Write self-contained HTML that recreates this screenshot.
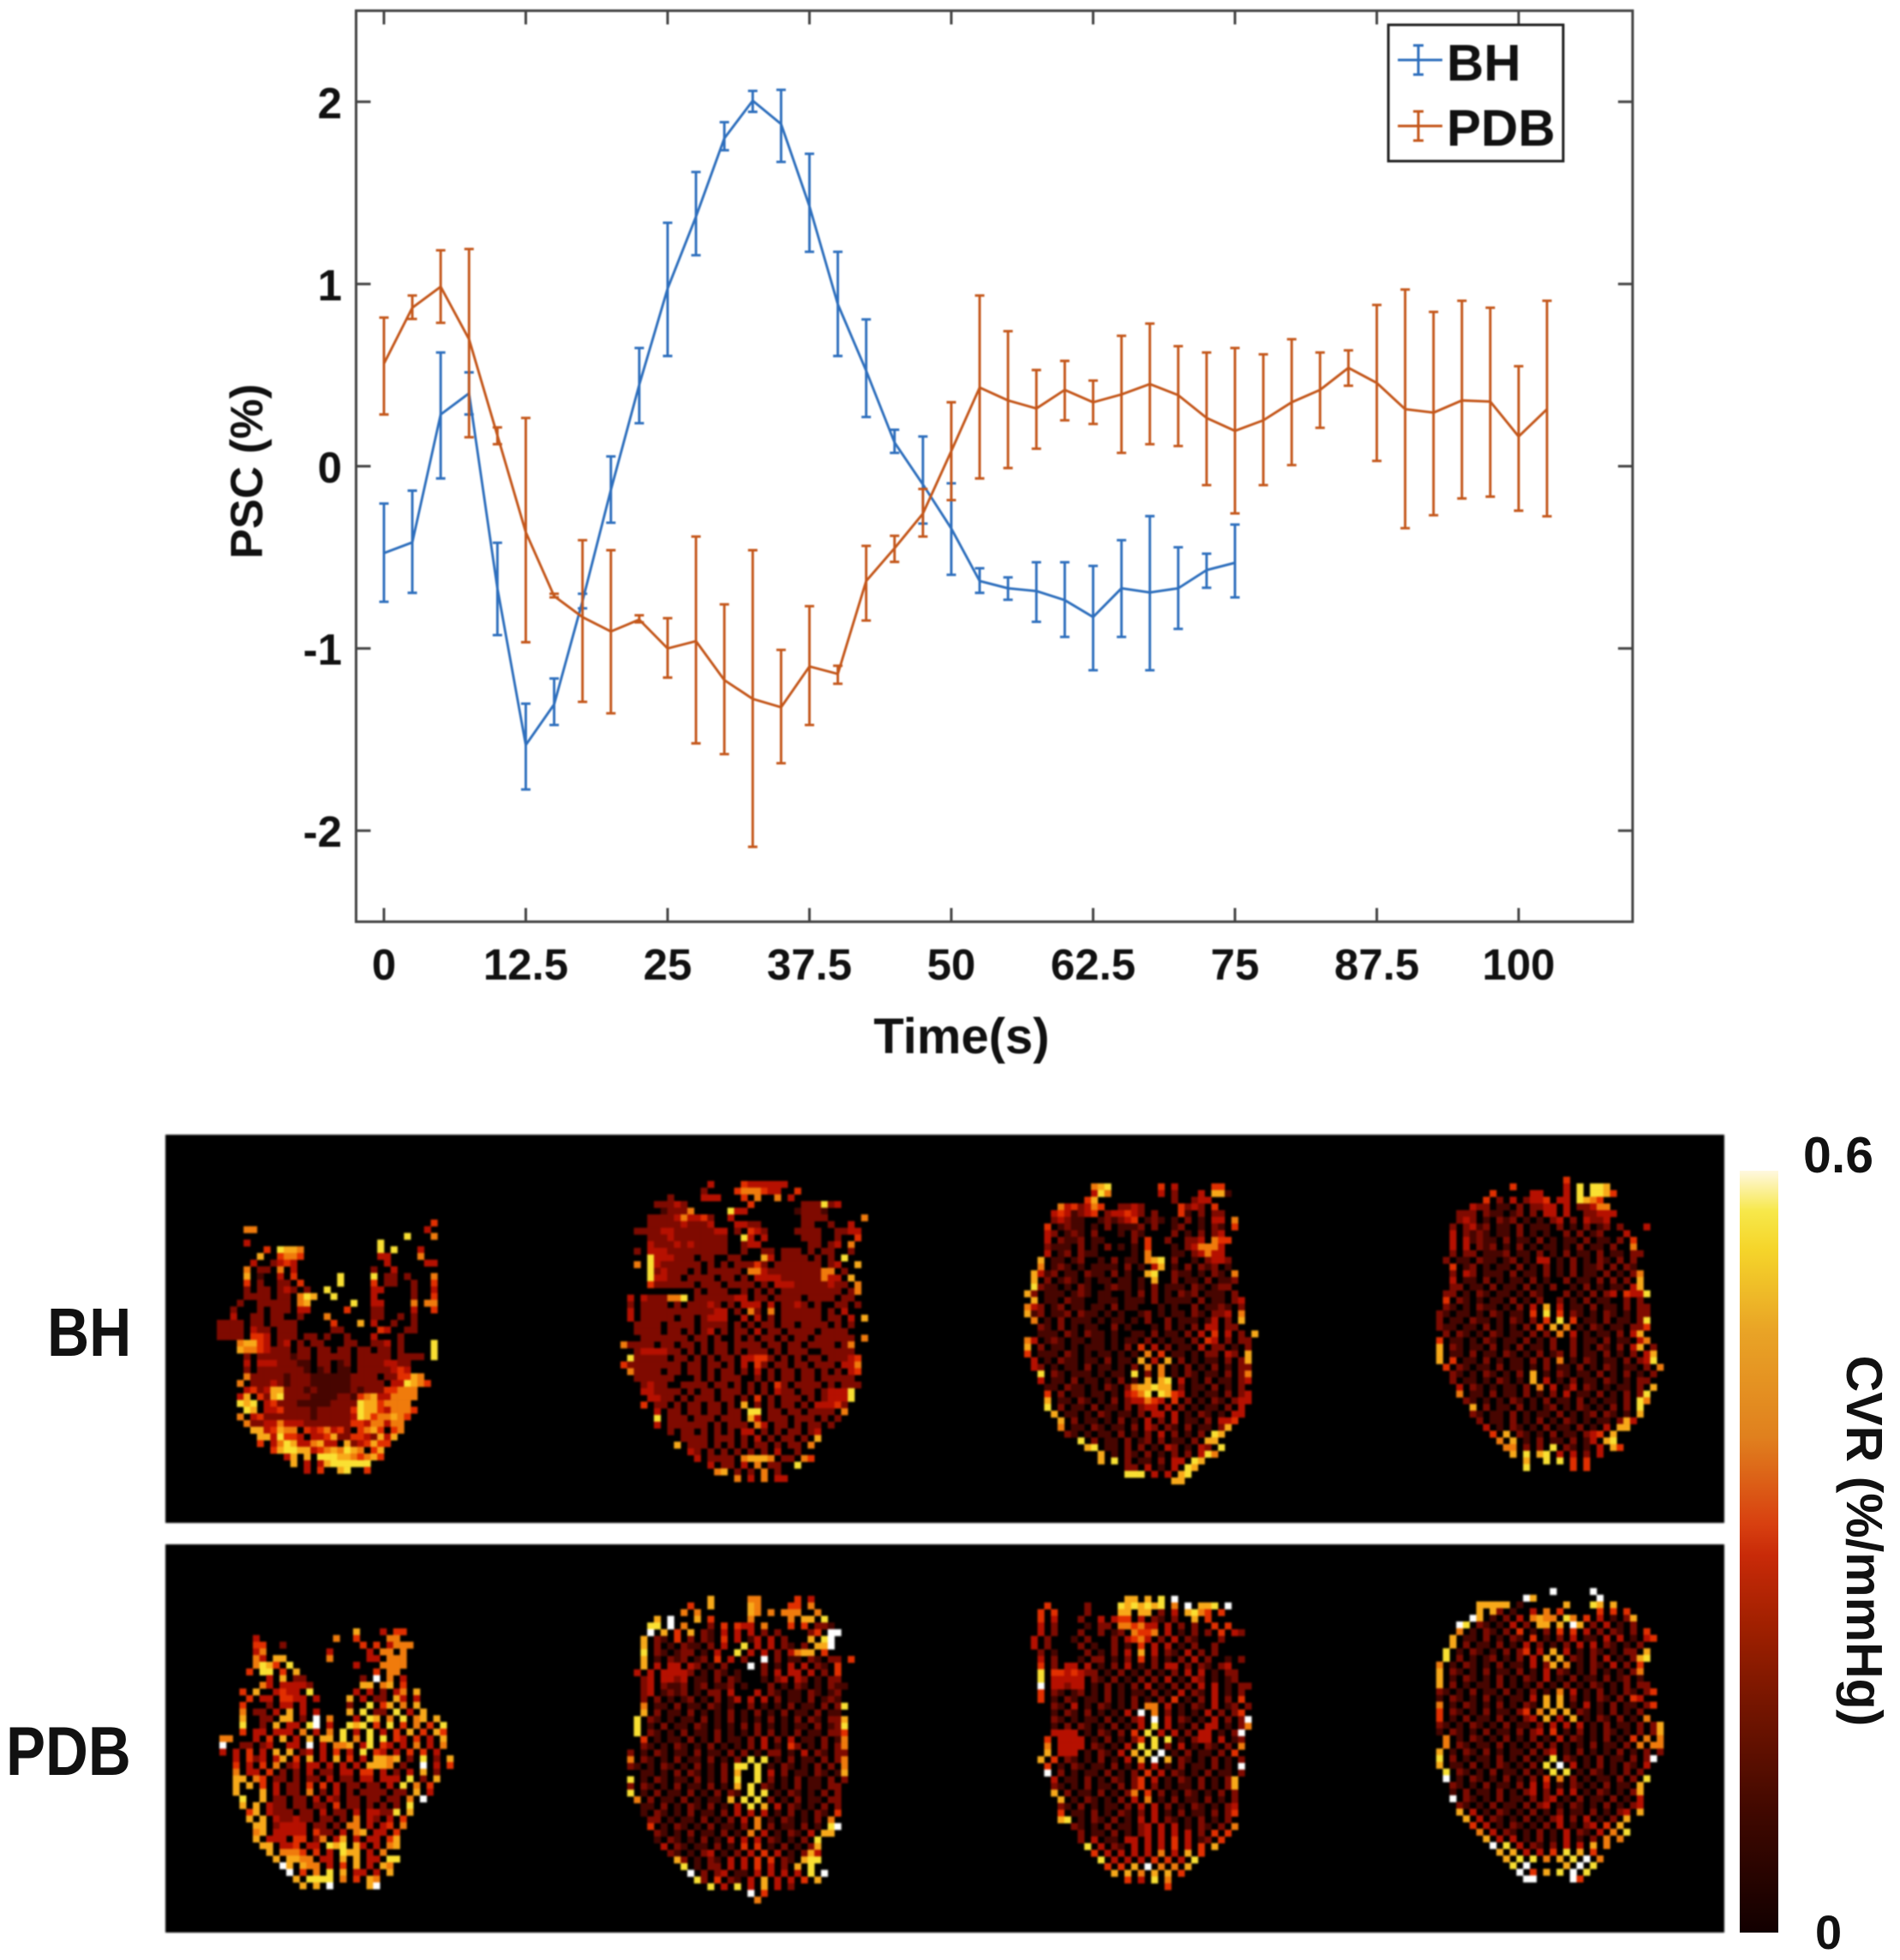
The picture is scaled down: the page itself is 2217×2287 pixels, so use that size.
<!DOCTYPE html>
<html>
<head>
<meta charset="utf-8">
<title>PSC time course and CVR maps</title>
<style>
html,body{margin:0;padding:0;background:#fff;}
svg{display:block;font-family:"Liberation Sans",sans-serif;}
#plot-layer{filter:blur(0.7px);}
#maps-layer{filter:blur(1px);}
text{fill:#111;font-weight:bold;}
</style>
</head>
<body>
<svg id="fig" width="2217" height="2287" viewBox="0 0 2217 2287" xmlns="http://www.w3.org/2000/svg">
<defs>
<linearGradient id="cvr-grad" x1="0" y1="0" x2="0" y2="1">
<stop offset="0" stop-color="#fff8e0"/>
<stop offset="0.053" stop-color="#f7e84a"/>
<stop offset="0.103" stop-color="#f5d52a"/>
<stop offset="0.209" stop-color="#e9a426"/>
<stop offset="0.35" stop-color="#e0801e"/>
<stop offset="0.464" stop-color="#d84010"/>
<stop offset="0.506" stop-color="#c82a08"/>
<stop offset="0.598" stop-color="#a02000"/>
<stop offset="0.704" stop-color="#741500"/>
<stop offset="0.846" stop-color="#3f0800"/>
<stop offset="1" stop-color="#120000"/>
</linearGradient>
</defs>
<rect width="2217" height="2287" fill="#fff"/>
<g id="plot-layer">
<rect x="415.5" y="12.5" width="1489.5" height="1063" fill="none" stroke="#444" stroke-width="3"/>
<g id="ticks"></g>
<g id="series"></g>
<text x="306" y="550" font-size="52.5" text-anchor="middle" transform="rotate(-90 306 550)">PSC (%)</text>
<text x="1122" y="1229" font-size="58" text-anchor="middle">Time(s)</text>
<g>
<rect x="1620" y="29" width="204" height="159" fill="#fff" stroke="#222" stroke-width="3"/>
<g stroke="#2e6fbd" stroke-width="3" fill="none">
<path d="M1631 70H1683M1655 53V87M1649 53H1661M1649 87H1661"/>
</g>
<g stroke="#c4571b" stroke-width="3" fill="none">
<path d="M1631 147H1683M1655 130V164M1649 130H1661M1649 164H1661"/>
</g>
<text x="1688" y="94" font-size="60">BH</text>
<text x="1688" y="170" font-size="60">PDB</text>
</g>
</g>
<g id="maps-layer">
<rect x="193" y="1324" width="1819" height="453" fill="#000"/>
<rect x="193" y="1802" width="1819" height="453" fill="#000"/>
<g id="cells"></g>
</g>
<text x="55" y="1582" font-size="68" transform="translate(0 -264) scale(1 1.167)">BH</text>
<text x="7" y="2073" font-size="69" transform="translate(0 -348) scale(1 1.167)">PDB</text>
<rect x="2030" y="1366" width="45" height="889" fill="url(#cvr-grad)"/>
<text x="2104" y="1368" font-size="59">0.6</text>
<text x="2118" y="2274" font-size="56">0</text>
<text x="1798" y="-2155" font-size="59" text-anchor="middle" transform="rotate(90)">CVR (%/mmHg)</text>
<script>
const xTicks = [0, 12.5, 25, 37.5, 50, 62.5, 75, 87.5, 100];
const xTickLabels = ["0", "12.5", "25", "37.5", "50", "62.5", "75", "87.5", "100"];
const yTicks = [2, 1, 0, -1, -2];
const yTickLabels = ["2", "1", "0", "-1", "-2"];

const bhTime = [0,2.5,5,7.5,10,12.5,15,17.5,20,22.5,25,27.5,30,32.5,35,37.5,40,42.5,45,47.5,50,52.5,55,57.5,60,62.5,65,67.5,70,72.5,75];
const bhMean = [-0.477,-0.418,0.284,0.40,-0.67,-1.53,-1.307,-0.74,-0.13,0.447,0.975,1.37,1.80,2.006,1.878,1.427,0.889,0.524,0.13,-0.10,-0.342,-0.63,-0.67,-0.685,-0.735,-0.828,-0.67,-0.693,-0.67,-0.57,-0.53];
const bhUpper = [-0.205,-0.134,0.624,0.515,-0.42,-1.303,-1.165,-0.70,0.054,0.649,1.336,1.615,1.888,2.06,2.066,1.715,1.177,0.806,0.20,0.163,-0.094,-0.56,-0.61,-0.527,-0.527,-0.547,-0.406,-0.274,-0.445,-0.48,-0.32];
const bhLower = [-0.744,-0.695,-0.067,0.284,-0.927,-1.774,-1.42,-0.78,-0.31,0.236,0.605,1.158,1.734,1.945,1.67,1.177,0.605,0.27,0.073,-0.315,-0.596,-0.695,-0.733,-0.854,-0.937,-1.12,-0.937,-1.12,-0.893,-0.667,-0.72];

const pdbTime = [0,2.5,5,7.5,10,12.5,15,17.5,20,22.5,25,27.5,30,32.5,35,37.5,40,42.5,45,47.5,50,52.5,55,57.5,60,62.5,65,67.5,70,72.5,75,77.5,80,82.5,85,87.5,90,92.5,95,97.5,100,102.5];
const pdbMean = [0.563,0.87,0.985,0.697,0.169,-0.362,-0.713,-0.828,-0.907,-0.842,-1.0,-0.96,-1.174,-1.277,-1.323,-1.099,-1.14,-0.63,-0.45,-0.26,0.083,0.432,0.361,0.317,0.419,0.351,0.394,0.451,0.39,0.265,0.194,0.252,0.351,0.419,0.54,0.457,0.313,0.294,0.361,0.355,0.163,0.313];
const pdbUpper = [0.816,0.937,1.185,1.192,0.213,0.265,-0.70,-0.406,-0.461,-0.818,-0.834,-0.386,-0.758,-0.461,-1.008,-0.768,-1.095,-0.437,-0.382,-0.125,0.351,0.937,0.741,0.528,0.578,0.47,0.716,0.783,0.659,0.624,0.649,0.614,0.697,0.624,0.636,0.885,0.97,0.847,0.908,0.87,0.549,0.908];
const pdbLower = [0.284,0.808,0.787,0.159,0.121,-0.966,-0.72,-1.293,-1.356,-0.857,-1.16,-1.521,-1.58,-2.089,-1.63,-1.42,-1.194,-0.847,-0.525,-0.386,-0.186,-0.067,-0.01,0.096,0.252,0.232,0.073,0.121,0.111,-0.104,-0.259,-0.104,0.006,0.211,0.442,0.029,-0.34,-0.269,-0.177,-0.167,-0.244,-0.275];

/* CVR maps: one string per voxel row; '.' = no value, digit d = d/9 of the colour scale */
const sliceBH1 = [
"................................5",
"....66.........................4",
"............................8...6",
"....4...................8",
".......5.8776...........8.8...4",
"......7..5665...........44....6",
".....4..3454.............4.....44",
"....6.33.6.4...........3..4",
"....7.2..4.5......8....8.33.3...6",
"....5.3..33.5.....8....5.33..3..5",
"....3.33.343.3..8......44....3..4",
"....3333.33.687..8.....4.....3..5",
"...3..33333.67......8..44....6.66",
"..3...3.333.44.....5...33....4..5",
"..4..33.33..3...6......33..3.3",
"3333.33.3333.....5...7.4..3..3",
"3333.433.333.....33.....54..33.",
"3333.554.333.33.3..3...4...3...",
"...67754.34.3.33...33..334.3....8",
"...76654333.33.33.33.33.33.3....8",
"....3.33333233.33333.33333.3333.8",
"....4.44433322.33.23.33334433",
"....3.33333332.23.22.33333454",
"....63333323332222223333.335576",
"...6.33343233322222233333.448765",
"....45347733323222223233355666",
"...47.537833332222332567446666",
"...878.4533322222333387756666",
"....87.44533332333335877546665",
"...6.453333333233333487566765",
"....633446444333333355466466",
".....7745766.5456453.5675.56",
"......7748554.4457335543747",
"......5.4687446744.7345755",
"........57887745676876.57",
"..........47.7.8887765675",
"...........7.4.47888888",
".............4.5..78..5",
];
const sliceBH2 = [
".............4....5444444",
"............3....5666544..5",
".......3....444...5.6..6.4",
".....33343.........5.......333834",
"......23336.....844.......23332",
"....3333464453..4..........3333.....6",
"....3333343334...4433......33..3..4",
"..33334433333344.3.543....3333..3344",
"....333433333333..84.4.....333..3..5",
"....433343433333..344.......33.34.6",
"..3.444333333333..3..33.333.3.33..3",
"....8444333.33..33...74.3333.3.3.8",
"..6.84333333.3.3.33353.3333333.34..7",
"....834333.3.33333.6643333333366.3",
"....84433.3333.33.3.4444333333644.7",
"....5333333.333.3333.3.44433333433.6",
"...........3.333..3.3.3.333333333.36",
".4.4333668.33333344.33.3333.3333.33",
".3.3333.3.33343.3.444.4.3343.3..33.3",
".4.3333333333344.3.63.6.333333.3.4",
".4.33333.33.3444..4.4.3.333333.33.4.7",
"..3333.3333.3333.3.3.33.33.3333.3.3",
"..3333.33.3.34.3.33.4.33.3333.3333",
"...3333333.33.3..3.3.33.3.33.333333.6",
"63333.33.33.3.33.3333.33.33.3333.36",
"..3444433.3.3.33.3.333.3.333..33333",
".833333.33.3.3.33.44553.3.3.33.33345",
"533333333.33.33.3.4.53.33.33.333.446",
".63333.33.33.3.33.3.4.3.33.33.3.3.45",
"..333333...3.3.333..3.3.33.33.33333",
"...3433..3333.33.3.3.3.53.3333.3.333",
"...443333.3.33.333.3.3.433.33.34448",
"....4433.3.333.33.3.5.3.333.3.34448",
"...5.33.3.33.33.3.7.3.3.33.3.44453",
".....4.33.33.33.33.88.33.33.3333.6",
".....8.333.333.333.74.333.333.3.3",
".....4.333333.3.333.64.33.3.33.3",
".......3.33.3.3.3.44.3.3.33.34",
".........3333.333.3.4.3.33.3.7",
"........7.333.3.3.3.33.3.33.6",
"..........43.3.3.3.3.3.4..3",
"...........4.3333.67776.33.65",
".............4.33.4.6.33..8",
"..............67.3.3.6.3..",
".................6.4.6.44",
];
const sliceBH3 = [
"..............................",
"..........678.......5.4.....55",
"..........486.......4.3...4.772",
".........57...........3..344",
".....6453465..3343.....5343.5",
"....4542345.344543.3...52.3.33",
"....34322..232345.232.2.3.2.44.6",
"...5.2322.2.3.2223.3..23..2.32.5",
"...43.232.3...2.32....3.2.3.34",
"...4.3223.22....3.5..3..334.655",
"...3222.3.2.3.2.2.5...2.346664",
"...4.23.322.....2.6...22.34644",
"..7.22.23..2.3.22.678.3..2.3443",
"..6.232.2.2222.3.2.47.2.3.323.2",
".7423.22.322.3.2..78..322.2.32.6",
".7.3.232.2.22.22.2.7..3.22.3.223",
".8322.2.32..2322.2.3.222.32.233.",
"73.222.232.22..2.3.3.2.323.222.3",
".7.22.322..222.222.3.2222.3.22.34",
"643.23.22.22.3.22...2.2..3.2232.3",
"723.223.322.2.2..23.2.22.32.334.6",
".6.2.3.222.2.22.2.3..3.222.24.3.7",
"..32.3.2.22..3.2...2.3.2.3.44.33.",
"..222.32.322.2..22.3.22.3.4.5.4.3.7",
"64.232.22.22.2.22.3.2.22.3.54.3.33",
"7.3.22.2.222.2.3.5.4.3.22.4.33.2.3",
"5.222.32.2.22.2.2.6.5.22.2.33.43.7",
".4.2.322.22.3.22.7.4.7.3.2.22.3.37",
".43.2.22.3.22.2.3.6.6.2.3.2.3.2.33",
"..8.32.222.2.22.8.3.6.2.32.22.3.36",
"..4.22.3.22.2.3.2.7.78.4.2.3.22.34",
"...22.322.2.32.3677877.3.22.3.2.3",
"...5.3.22.22.2.4568.8754.2.22.3.34",
"...7.22.32.2.3.344654.5.3.2.32.344",
"...8.3.22.3.22.3.344.4.3.2.22.3.4",
"....7.22.2.32.22.3.44.4.2.32.2.44",
".....7.3.22.2.3.2.4.3.4.22.3.445",
".....6.22.32.22.3.43.32.3.22.37",
"......32.2.22.3.2.3.4.3.2.3.87",
"........8.3.22.3.23.3.22.3.77",
".........78.22.3.3.2.43.2.43.8",
"...........7.2.32.3.2.3.3.486",
"...........7.8.3.22.3.44.87",
"...............33.4.2.4.87",
"...............888.4.4.78",
"......................77",
];
const sliceBH4 = [
"....................5",
"............5.......4.8.887",
".........5.....44...4.8.8875",
"........5.3.4.3445.44.8765",
"......433.22.3.3344.4.33466",
"....333.322.23.3.44.4..33444",
"....343.2.323.2.2.34.3.4334.",
"...3.3423.22.3.222.3.2.3.23.3...4",
"...4.3232.22.3.2.2..3.3.23...4..",
"...4.42322.3.22.3.2.22.3.22.3.5",
"...4.4.323.2.3.2.22.2.3.22.3..6",
"...3.33.2223.22.3.2.3.22.3.22.33",
"..3.22.322.23.2.44.2.3.2.32.3.3",
"...5.23.2.22.3.2.3.2.3.223.3.32",
"...3.43.222.3.22.3.2.3.22.3.2.36",
"...4.22.3.2.22.3.2..3.22.3.3.3.7",
"...33.22.3.22.3.2.3..2.3.2.22.47",
"..33.2.32.22.2.32...3.2.3.34.5448",
"..5.32.2.22.3.2.3..3.2.3.22..3.3",
"..32.2.322.2.3.4.7.4.22.3.22.3.33",
".32.22.2.32.22.5.8.5.32.2.32.2.33",
".3.22.322.2.32.3.5.8.5.22.3.22.38",
".322.22.3.2.2.3.5.7.6.2.32.22.335",
"..3.32.2.32.22.3.3.6.4.2.22.3.47",
".5.22.2.32.22.3.2.3..3.22.3.22.46",
".7.32.22.3.2.3.22.3..3.2.32.3.47.3",
".7.22.3.22.32.2.3.23.3.22.3.2.3.47",
".7.5.22.3.2.22.3.3.6.2.32.22.3.348",
"..5.32.22.3.22.2.3.22.3.2.32.22.3.6",
"...32.2.32.2.3.7.2.32.22.3.2.3.2.3",
"...3.22.2.32.2.7.4.2.3.22.32.2.33",
"....4.32.2.22.3.6.4.24.32.2.22.3.7",
"....6.22.3.22.3.2.3.4.22.3.2.3.38",
".....32.2.2.32.2.3.22.3.2.22.3.86",
"......7.3.22.3.2.23.2.32.2.3.3.8",
"......32.22.3.2.22.3.2.23.32.2.7",
".......3.22.3.2.3.2.32.2.22.374",
"........4.2.32.2.3.22.3.2.4.77",
".........5.7.32.2.3.22.345.7",
"..........6.7.2.3.22.3.24.78",
"...........66.3.3.8.32.2.4.75",
"............7.8.78.4.4.3.4",
"..............7..8.8.5.5",
"..............8......5.5",
];
const slicePDB1 = [
"....................7...4.55.",
".....4...........6..5....66.",
".....55..3...........5.5.4666",
".....46.........4.....4.66.6",
".....64.77......6.....44.666",
".....6875.8.........4...6666",
"....5.88.5.7...........5.66",
".......4.7.33........3.9.6.4",
"......64.44443.......77.67.5",
"...5.7..4544.8......4.4.3.46.7",
"....5.44.5544.4....7.4.33.74.4",
"...5...3.44.4......3..8.57.6.7",
"...6.33.4.7.4.4....7.8.33.8.4.7",
"...7..33.77.3.9.6...4.87.6.8.67.7",
"...8..3.7.44.89.4..878.5.8.5.6.5.8",
"...5.44.444.6.4.6.8.4.8.4.5.7.5.75",
"66...4.5.7.4.7.77.8.6.8.8.54.5.4.7",
"9..33.34..44.9.4.667.48.54.4.6.4.6",
"4.4.5.4.7.7.34.4.5.4.8.54.4.5.5.4",
"..4.534.47.5.7.4.7.5.4.7767.3.8.3.7",
"..5.4.5.6.34.44.4.4.4.7776.3..9.4.5",
"..6.44.5.3.3.4.33.44.55.4.3.4.7.3",
"..77.65.33.3.33.4.33.44.444.8.3.7",
"..7.7.5.4.33.5.5.4.33.33.4.8.6.5",
"..7...7.4.33.6.3.4.3.3333.33.7.4",
"...8..7.33.33.4.43.33.33.33.6.9",
"...7.7.433.33.33.5.33.3.3.3.8.",
"....57.4333.33.4.33.4.44338.7",
"....7.7.433433.33.3.6.43.4.5",
".....77.34444.33.3.66.4.45.6",
".....67.44444.533.4.67.44.5.",
".....7.444.55.36.47.4.44.57",
"......77.445.44.878.74.4.67",
".......7.6665.5.4.877.4.6.",
"........7.7766.44.7.7.44.88",
".........97.766.4.5.7.4.76",
"..........9.5.6.8.7.44.4.7",
"...........7.8888.6.5.76",
"............7.7.9.....79",
];
const slicePDB2 = [
".............7.....66.....5.4",
"..........5..7.....76....55.6",
".........6.6.......76.6.666..6",
".....7.9...7.5.....6.....6.77.8",
"....88.9.6...3.5.544.6...5.5.332",
"....9.7.5.7.32.4.4.4.3.3....35.99",
"...7.32.5.3.32.5.4.24.4.3...7.89",
"...7.3.2.322.3.4..8.4.4.32.3.779",
"...8.32.233.2.4..8.4.4.3.4677.5",
"...7.2.323.23.5.4.3..9.3.22.32.33.5",
"...7.4.44.43.2.3...9.3.2.4.4.32.5",
"..4.4.44443.2.32.2...3.4.44.4.3.5",
"...34.4434.22.3.32...2.34.43.2.33",
"...34.3223.23.223.2...3.2.32.2.322",
"...34.2323.2.33.4...4.32.22.32.23",
"...3.3.2.23.2.3.24.4.4.3.22.3.232",
"...6.22.3.22.32.2..3.2.2.3.22.3.38",
"...7.3.22.3.2.2.3.2.3.2.3.22.3.22",
"..8.32.2.22.3.2.3.2.2.3.2.3.32.337",
"..8.2.3.22.32.2.2.3.3.2.2.22.3.238",
"..8.32.2.3.22.3.2.2.3.3.2.3.22.335",
"...5.2.22.3.2.3.22.3.4.3.4.22.3.26",
"...32.2.32.2.3.2.2.3.4.2.53.2.3.36",
".3.2.32.22.3.22.3.3.2.33.2.4.32.33",
".6.32.2.3.22.3.2.3.8.8.2.3.22.3.36",
".32.2.32.2.3.2.3.88.8.2.32.2.3.3.6",
"...22.2.3.32.2.3.7..8.4.3.22.32.27",
".8.2.32.22.3.2.3.8..8.3.2.3.22.3.3",
".3.32.2.3.22.3.2.7.8.32.2.3.22.33",
".8.2.3.22.3.2.3.32.8.8.2.32.2.3.3",
"..6.3.22.3.2.22.7.8.8.3.2.3.22.33",
"...22.3.2.32.3.2.4.8.7.4.32.2.3.3",
"...2.32.2.3.22.3.4.4.4.2.3.2.32.5",
"....33.2.22.3.2.3.4.6.2.32.2.3.6",
"....5.2.32.2.3.22.3.6.3.22.3.2.89",
".....32.2.3.22.3.2.6.4.2.32.4.77",
".....2.32.2.3.2.4.4.4.32.2.3.8",
"......4.32.22.3.2.5.5.2.3.2.37",
".......32.2.34.2.3.4.5.4.2.374",
"........73.2.32.4.4.5.5.32.788",
".........8.2.33.4.4.5.4.3.7.8",
"..........9.3.34.22.4.4.4.4.8.9",
"...........83.5.32.4.7.4.4.5.7",
".............8.4.8.4.7.4.3",
"...................9.5",
"....................6",
];
const slicePDB3 = [
"...............77.7.8.9",
"...5.....3....8787878.6.9.778.9",
"..5.5....3....77.77.3.4.7865.5",
"..5.4...3..4.455.4.32.3..7.5",
"..4.3....2.33.665644.4.3.3..5.5",
"..4.3...3..3.23.6556.4.2.3.3.5.43",
".4.3...2.3...3.4564.3.4.32...3.",
".4.3....3.2..3.2.5.4.4.2.3..3",
"..3.2....3.2.3.4.7.4.32.4.3.3",
"..4.3...2.33.2.3.5.3.2.3.4.3..2.3",
"..5.3.44.4.2.3.4.2.3.44.3.32.34",
"..8.5545433.2.3.2.3.2.3.4.4.2.33",
"..8.44444.32.3.2.3.3.4.2.43.2.23",
"..9.44344.2.3.2.3.4.2.3.3.4.4.2.33",
"..5.32.23.2.3.2.22.3.2.4.32.4.2.3",
"..5.2.32.22.3.2.3.2.3.5.2.3.4.3.5",
"....32.4.2.32.2.3.66.4.2.32.4.23.3",
"....2.32.3.2.2.4.9.6.3.2.2.4.3.35",
"....32.2.22.3.2.34.9.4.32.2.4.3.39",
"....2.3.32.2.3.2.4.8.4.2.3.44.2.36",
"....4444.2.32.3.5.8.4.4.3.44.2.39",
"...5.4444.2.3.2.35.8.8.2.344.4.23",
"...6.4444.32.2.4.8.8.3.4.2.32.3.6",
"...7.444.2.32.4.7.8.9.2.3.22.3.5",
"..7.5.32.2.3.2.4.7.9.7.32.2.3.2.3",
"...5.2.32.22.3.2.4.4.2.3.22.3.2.9",
"...9.3.2.22.3.2.3.5.4.32.2.3.22.3",
"....4.22.3.2.32.35.4.2.32.3.2.37",
"....32.2.3.22.3.35.3.2.22.3.2.37",
"....7.3.22.3.2.36.5.3.2.32.2.3.3",
".....7.2.32.2.3.4.6.2.3.22.3.2.3",
".....32.3.2.22.3.4.4.3.2.32.2.34",
".....5.22.3.2.32.3.4.2.3.22.3.35",
".....78.2.32.3.2.4.4.32.2.3.2.3",
".......32.2.3.22.34.4.4.2.32.3.6",
"........3.22.3.2.34.4.4.4.3.5.5",
"........3.4.22.44.4.4.5.4.23.5",
".........8.4.32.4.4.4.5.4.5.7",
"..........5.4.4.4.4.6.4.7.5",
"...........8.4.4.4.5.5.4.8",
"............5.5.7.9.6.6.7",
".............7.7.6.7.7.5",
"...............5.4.8.6",
".....................5",
];
const slicePDB4 = [
"..................9.....9",
"..............97.........9",
".......77777.2......7...87.7",
".......7.73.2..4.6.5.....5.5.5",
"......97.2.3.4.6766.86.5.4.2.37",
"....98.32.2.4.3.77.7.97.3.4.2.3",
"....6.2.32.3.5.2.3.5.5.4.3.32.3.5",
"...7.22.3.2.32.5.2.3.4.22.4.4.2.45",
"...7.3.22.3.2.4.3.2.3.4.4.32.2.3",
"..8.2.32.2.3.35.4.7.4.2.32.2.33.7",
"..8.3.2.23.2.3.4.7.7.32.3.4.2.378",
".6.2.32.2.3.22.4.37.6.2.32.4.3.5",
".7.32.2.3.22.3.2.4.32.2.3.2.2.36",
".7.2.32.2.3.2.32.4.2.3.22.3.23.2",
".7.3.2.22.3.2.2.3.2.3.2.32.2.3.33",
".32.2.3.22.3.2.3.2.6.4.2.3.2.32.35",
".2.32.2.3.2.22.4.7.7.3.2.32.3.54",
".6.2.32.2.3.2.32.7.7.2.4.2.3.22.35",
".5.32.2.3.22.35.6.7.7.32.2.3.2.3",
".5.2.3.22.3.2.34.7.4.7.2.32.3.2.6",
".32.2.32.2.3.22.3.4.4.4.2.3.22.3.37",
".2.32.2.3.22.3.34.5.2.3.2.32.2.3.37",
"..6.2.32.2.3.2.3.2.4.32.2.3.2.5.6.6",
"..6.32.22.3.2.2.3.3.2.2.3.22.3.6.66",
".7.2.32.3.2.22.3.34.2.3.2.2.3.2.3.3",
".8.3.2.22.3.2.3.2.8.32.2.3.22.3.39",
".7.22.3.2.32.2.3.8.9.4.2.3.2.32.4",
"..8.32.2.3.22.3.2.8.8.2.32.2.3.3",
"..9.2.32.2.3.2.3.5.6.3.2.22.3.3.8",
"...32.2.3.22.3.4.4.2.32.2.3.22.7",
"...2.3.22.3.2.34.3.4.4.2.32.2.37",
"...9.32.2.3.22.3.34.2.3.22.3.2.4",
"....32.2.3.22.3.34.2.32.2.3.2.34",
"....7.4.2.32.2.3.2.3.22.3.2.34.7",
".....7.4.32.2.3.2.34.3.4.2.3.7",
"......5.4.2.32.2.3.4.2.34.5.7",
".......6.4.32.2.3.2.4.32.4.6.8",
"........7.4.4.2.3.2.4.2.3.6.6",
".........9.8.4.32.3.4.4.7.6",
"..........7.7.4.4.5.8.7.5",
"...........7.8.8.6.7.8.9.6",
"............8.9.....7.9.8",
".............9.5.7.8.9.8",
"..............99.....95",
];

const X0 = 448, X_PER_S = 13.24, Y0 = 544, Y_PER_UNIT = 212.6;
const NS = "http://www.w3.org/2000/svg";
function xScale(t){ return X0 + X_PER_S * t; }
function yScale(v){ return Y0 - Y_PER_UNIT * v; }

const tickLayer = document.getElementById("ticks");
function addTick(x1, y1, x2, y2){
  const l = document.createElementNS(NS, "line");
  l.setAttribute("x1", x1); l.setAttribute("y1", y1);
  l.setAttribute("x2", x2); l.setAttribute("y2", y2);
  l.setAttribute("stroke", "#444"); l.setAttribute("stroke-width", "3");
  
  
  tickLayer.appendChild(l);
}
function addLabel(txt, x, y, anchor){
  const t = document.createElementNS(NS, "text");
  t.setAttribute("x", x); t.setAttribute("y", y);
  t.setAttribute("font-size", "51");
  t.setAttribute("text-anchor", anchor);
  
  
  t.textContent = txt;
  tickLayer.appendChild(t);
}
xTicks.forEach((t, i) => {
  const x = xScale(t);
  addTick(x, 12.5, x, 28.5);
  addTick(x, 1075.5, x, 1059.5);
  addLabel(xTickLabels[i], x, 1143, "middle");
});
yTicks.forEach((v, i) => {
  const y = yScale(v);
  addTick(415.5, y, 432.5, y);
  addTick(1905, y, 1888, y);
  addLabel(yTickLabels[i], 399, y + 19, "end");
});

const seriesLayer = document.getElementById("series");
function drawSeries(name, color, times, mean, upper, lower){
  const g = document.createElementNS(NS, "g");
  
  
  g.setAttribute("stroke", color);
  g.setAttribute("fill", "none");
  g.setAttribute("stroke-width", "2.9");
  times.forEach((t, i) => {
    const x = xScale(t), yu = yScale(upper[i]), yl = yScale(lower[i]);
    const bar = document.createElementNS(NS, "path");
    bar.setAttribute("d", "M" + x + " " + yu + "V" + yl + "M" + (x - 5.5) + " " + yu + "H" + (x + 5.5) + "M" + (x - 5.5) + " " + yl + "H" + (x + 5.5));
    
    
    g.appendChild(bar);
  });
  const line = document.createElementNS(NS, "polyline");
  line.setAttribute("points", times.map((t, i) => xScale(t) + "," + yScale(mean[i])).join(" "));
  line.setAttribute("stroke-linejoin", "round");
  
  
  g.appendChild(line);
  seriesLayer.appendChild(g);
}
drawSeries("bh", "#2e6fbd", bhTime, bhMean, bhUpper, bhLower);
drawSeries("pdb", "#c4571b", pdbTime, pdbMean, pdbUpper, pdbLower);

const cmapPos = [0, 0.22, 0.33, 0.44, 0.56, 0.67, 0.78, 0.89, 1];
const cmapCol = [[18,0,0],[70,5,0],[125,10,0],[180,15,0],[228,48,0],[240,125,12],[248,170,25],[250,225,50],[255,255,255]];
function cvrColor(value){
  const t = Math.max(0, Math.min(1, value / 0.6));
  let i = 0;
  while (i < cmapPos.length - 2 && t > cmapPos[i + 1]) i++;
  const f = (t - cmapPos[i]) / (cmapPos[i + 1] - cmapPos[i]);
  const c = cmapCol[i].map((a, k) => Math.round(a + (cmapCol[i + 1][k] - a) * f));
  return "rgb(" + c.join(",") + ")";
}
const cellLayer = document.getElementById("cells");
const VOXEL = 7.8;
function drawSlice(name, rows, ox, oy){
  const g = document.createElementNS(NS, "g");
  
  
  rows.forEach((row, r) => {
    for (let c = 0; c < row.length; c++){
      const ch = row[c];
      if (ch === ".") continue;
      const cell = document.createElementNS(NS, "rect");
      cell.setAttribute("x", ox + c * VOXEL);
      cell.setAttribute("y", oy + r * VOXEL);
      cell.setAttribute("width", VOXEL + 0.3);
      cell.setAttribute("height", VOXEL + 0.3);
      cell.setAttribute("fill", cvrColor(Number(ch) / 9 * 0.6));
      
      
      g.appendChild(cell);
    }
  });
  cellLayer.appendChild(g);
}
drawSlice("bh-slice-1", sliceBH1, 253, 1423);
drawSlice("bh-slice-2", sliceBH2, 724, 1378);
drawSlice("bh-slice-3", sliceBH3, 1195, 1373);
drawSlice("bh-slice-4", sliceBH4, 1668, 1373);
drawSlice("pdb-slice-1", slicePDB1, 256, 1900);
drawSlice("pdb-slice-2", slicePDB2, 724, 1862);
drawSlice("pdb-slice-3", slicePDB3, 1195, 1862);
drawSlice("pdb-slice-4", slicePDB4, 1668, 1853);
</script>
</svg>
</body>
</html>
